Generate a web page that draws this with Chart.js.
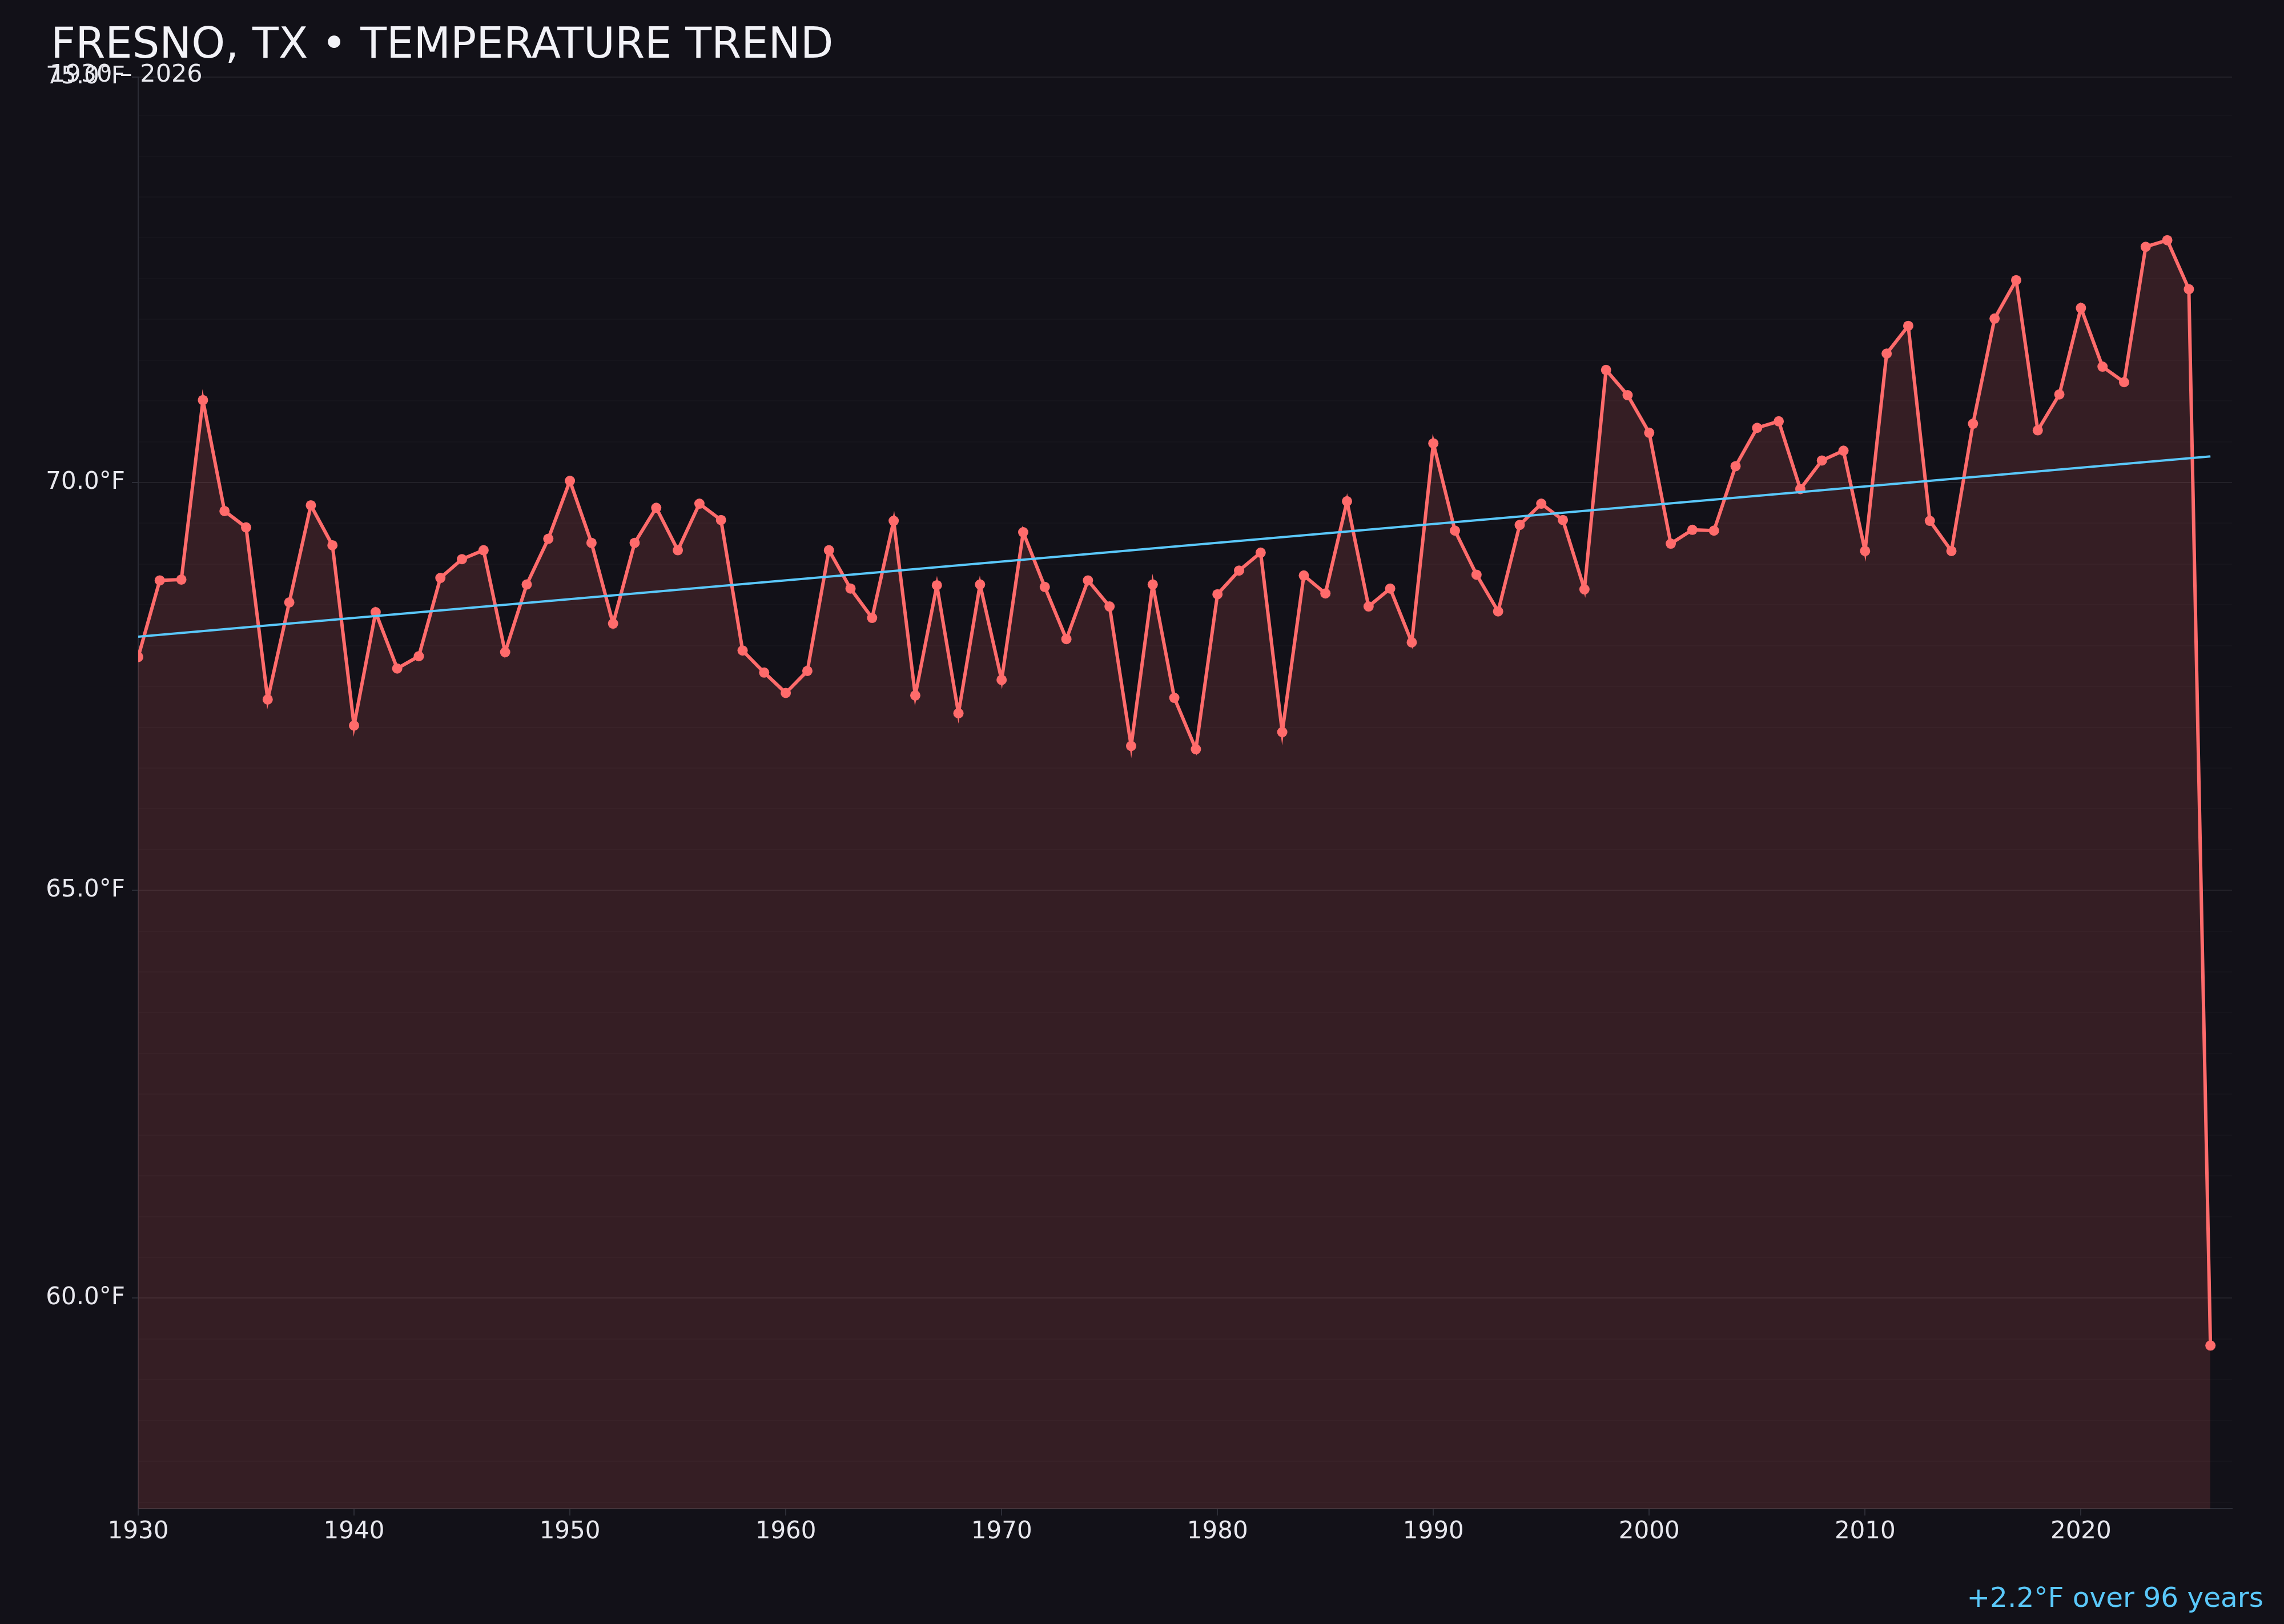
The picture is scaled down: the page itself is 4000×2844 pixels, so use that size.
<!DOCTYPE html>
<html>
<head>
<meta charset="utf-8">
<script src="https://cdn.jsdelivr.net/npm/chart.js@4.4.1/dist/chart.umd.min.js"></script>
<style>
html,body{margin:0;padding:0;background:#121118;}
#wrap{position:relative;width:4000px;height:2844px;overflow:hidden;background:#121118;}
#chart{position:absolute;left:0;top:0;width:4000px;height:2844px;}
.t{position:absolute;font-family:'DejaVu Sans',sans-serif;line-height:1;white-space:nowrap;}
#title{left:89px;top:38px;font-size:75px;color:#f2f2f7;}
#sub{left:87px;top:107px;font-size:43px;color:#e8e8ee;}
#note{right:36px;top:2773px;font-size:48.5px;color:#5ac8fa;}
</style>
</head>
<body>
<div id="wrap">
<canvas id="chart" width="4000" height="2844"></canvas>
<div class="t" id="title"></div>
<div class="t" id="sub"></div>
<div class="t" id="note"></div>
</div>
<script>
const years = [
  1930,1931,1932,1933,1934,1935,1936,1937,1938,1939,
  1940,1941,1942,1943,1944,1945,1946,1947,1948,1949,
  1950,1951,1952,1953,1954,1955,1956,1957,1958,1959,
  1960,1961,1962,1963,1964,1965,1966,1967,1968,1969,
  1970,1971,1972,1973,1974,1975,1976,1977,1978,1979,
  1980,1981,1982,1983,1984,1985,1986,1987,1988,1989,
  1990,1991,1992,1993,1994,1995,1996,1997,1998,1999,
  2000,2001,2002,2003,2004,2005,2006,2007,2008,2009,
  2010,2011,2012,2013,2014,2015,2016,2017,2018,2019,
  2020,2021,2022,2023,2024,2025,2026
];
const temps = [
  67.86,68.80,68.81,71.01,69.65,69.45,67.34,68.53,69.72,69.23,
  67.02,68.41,67.72,67.87,68.83,69.06,69.17,67.92,68.75,69.31,
  70.02,69.26,68.27,69.26,69.69,69.17,69.74,69.54,67.94,67.67,
  67.42,67.69,69.17,68.70,68.34,69.53,67.39,68.74,67.17,68.75,
  67.58,69.39,68.72,68.08,68.80,68.48,66.77,68.75,67.36,66.73,
  68.63,68.92,69.14,66.94,68.86,68.64,69.77,68.48,68.70,68.04,
  70.48,69.41,68.87,68.42,69.48,69.74,69.54,68.69,71.38,71.07,
  70.61,69.25,69.42,69.41,70.20,70.67,70.75,69.92,70.27,70.39,
  69.16,71.58,71.92,69.53,69.16,70.72,72.01,72.48,70.64,71.08,
  72.14,71.42,71.23,72.89,72.97,72.37,59.42
];
const trendYears = [1930, 2026];
const trendTemps = [68.11, 70.32];
const xTickValues = [1930,1940,1950,1960,1970,1980,1990,2000,2010,2020];
const yLabelValues = [60,65,70,75];
const titleText = 'FRESNO, TX • TEMPERATURE TREND';
const subtitleText = '1930 – 2026';
const noteText = '+2.2°F over 96 years';

document.getElementById('title').textContent = titleText;
document.getElementById('sub').textContent = subtitleText;
document.getElementById('note').textContent = noteText;

const yMin = Math.min(...temps) - 2;
const yMax = Math.max(...temps) + 2;
const isLabelled = v => yLabelValues.includes(Math.round(v * 10) / 10);

const AXIS = '#2c2d36';
const LABEL = '#e8e8ee';
const FONT = {family: "'DejaVu Sans'", size: 42};

new Chart(document.getElementById('chart'), {
  type: 'line',
  data: {
    datasets: [
      {
        label: 'Trend',
        data: trendYears.map((y, i) => ({x: y, y: trendTemps[i]})),
        borderColor: '#5ac8fa',
        borderWidth: 4,
        pointRadius: 0,
        fill: false,
        tension: 0
      },
      {
        label: 'Temperature',
        data: years.map((y, i) => ({x: y, y: temps[i]})),
        borderColor: '#ff6b6b',
        borderWidth: 6,
        pointRadius: 9,
        pointBackgroundColor: '#ff6b6b',
        pointBorderWidth: 0,
        fill: 'start',
        backgroundColor: 'rgba(255,107,107,0.15)',
        tension: 0
      }
    ]
  },
  options: {
    responsive: false,
    devicePixelRatio: 1,
    animation: false,
    events: [],
    layout: {padding: {left: 0, top: 135, right: 91, bottom: 0}},
    plugins: {legend: {display: false}, title: {display: false}, tooltip: {enabled: false}},
    scales: {
      x: {
        type: 'linear',
        min: 1930,
        max: 2027,
        afterBuildTicks: s => { s.ticks = xTickValues.map(v => ({value: v})); },
        afterFit: s => { s.height = 202; },
        ticks: {callback: v => String(v), color: LABEL, font: FONT, padding: 4, autoSkip: false, maxRotation: 0},
        grid: {drawOnChartArea: false, tickLength: 12, tickColor: AXIS, lineWidth: 2},
        border: {color: AXIS, width: 2}
      },
      y: {
        type: 'linear',
        min: yMin,
        max: yMax,
        afterBuildTicks: s => {
          const t = [{value: yMin}];
          for (let v = Math.ceil(yMin * 2) / 2; v < yMax - 1e-6; v += 0.5) {
            if (v > yMin + 1e-6) t.push({value: v});
          }
          t.push({value: yMax});
          s.ticks = t;
        },
        afterFit: s => { s.width = 242; },
        ticks: {
          callback: v => isLabelled(v) ? (Math.round(v * 10) / 10).toFixed(1) + '°F' : '',
          color: LABEL, font: FONT, padding: 12, autoSkip: false
        },
        grid: {
          color: c => (c.tick && isLabelled(c.tick.value)) ? 'rgba(255,255,255,0.07)' : 'rgba(255,255,255,0.018)',
          tickColor: c => (c.tick && isLabelled(c.tick.value)) ? AXIS : 'rgba(0,0,0,0)',
          lineWidth: 2,
          tickLength: 11
        },
        border: {color: AXIS, width: 2}
      }
    }
  }
});
</script>
</body>
</html>
